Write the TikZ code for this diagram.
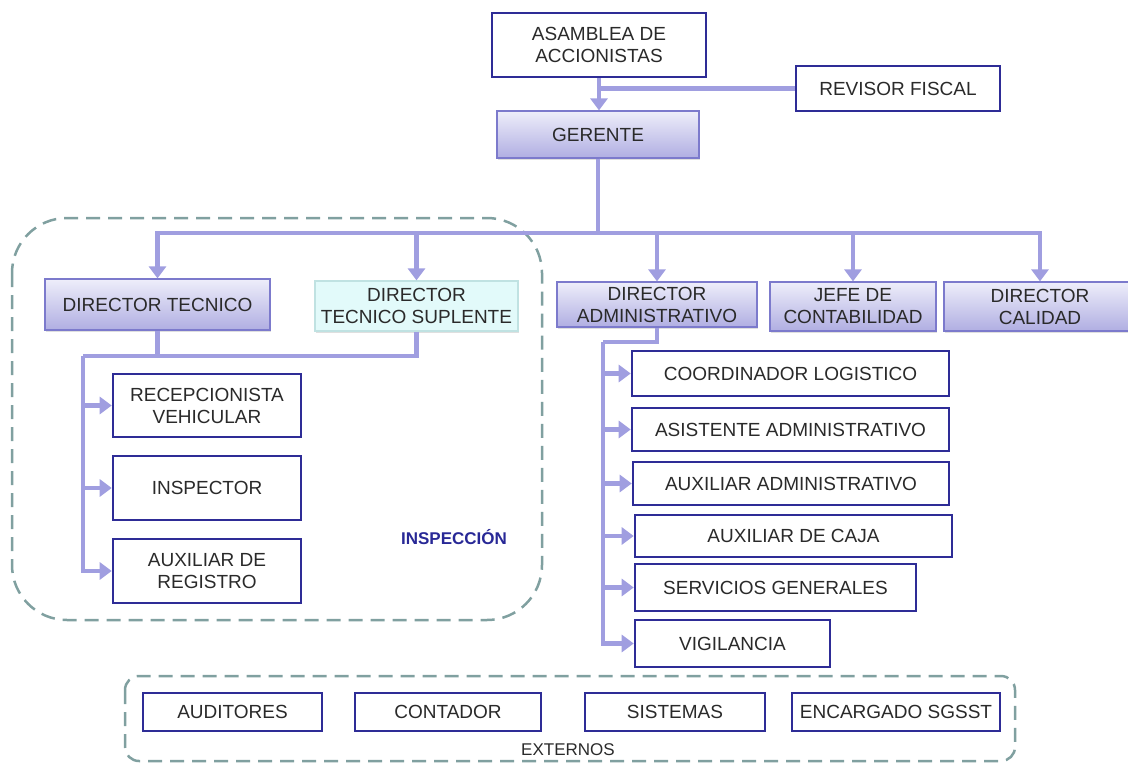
\documentclass[tikz,border=0pt]{standalone}
\usepackage{fontspec}
\setmainfont{Liberation Sans}
\usetikzlibrary{arrows.meta,shadows}

\definecolor{lineal}{RGB}{160,158,224}
\definecolor{azulcaja}{RGB}{46,44,150}
\definecolor{lilaborde}{RGB}{124,122,204}
\definecolor{lilaclaro}{RGB}{238,238,250}
\definecolor{lilaoscuro}{RGB}{176,174,226}
\definecolor{cianclaro}{RGB}{226,250,250}
\definecolor{cianborde}{RGB}{192,226,226}
\definecolor{verdegris}{RGB}{128,160,160}
\definecolor{grisletra}{RGB}{42,42,42}
\definecolor{azultitulo}{RGB}{40,40,150}

\begin{document}
\begin{tikzpicture}[x=1pt, y=-1pt,
    caja/.style={draw=azulcaja, line width=2.6pt, fill=white, text=grisletra,
      inner sep=0pt, align=center, font=\fontsize{19}{22}\selectfont},
    cargo/.style={caja, draw=lilaborde, line width=1.2pt,
      top color=lilaclaro, bottom color=lilaoscuro,
      drop shadow={shadow xshift=1pt, shadow yshift=-2pt, opacity=0.25}},
    linea/.style={draw=lineal, line width=4.5pt},
    flecha/.style={linea, -{Triangle[width=17pt,length=12pt]}},
    grupo/.style={draw=verdegris, line width=2.5pt, dash pattern=on 14pt off 8pt}
  ]
    \useasboundingbox (0,0) rectangle (1128,764);

    % grupos
    \draw[grupo, rounded corners=55] (12,218) rectangle (542,620);
    \draw[grupo, rounded corners=14] (125,676) rectangle (1015,761);
    \node[font=\fontsize{17}{20}\selectfont\bfseries, text=azultitulo] (inspeccion) at (454,537) {INSPECCIÓN};
    \node[font=\fontsize{17}{20}\selectfont, text=grisletra] (externos) at (568,750) {EXTERNOS};

    % direccion
    \node[caja, minimum width=214, minimum height=64] (asamblea) at (599,45) {ASAMBLEA DE\\ACCIONISTAS};
    \node[caja, minimum width=204, minimum height=45] (revisor) at (898,88.5) {REVISOR FISCAL};
    \node[cargo, minimum width=202, minimum height=47] (gerente) at (598,134.5) {GERENTE};

    \node[cargo, minimum width=225, minimum height=51] (dtecnico) at (157.5,304.5) {DIRECTOR TECNICO};
    \node[caja, draw=cianborde, line width=1.2pt, fill=cianclaro,
      drop shadow={shadow xshift=1pt, shadow yshift=-2pt, opacity=0.25},
      minimum width=203, minimum height=50] (dsuplente) at (416.5,306) {DIRECTOR\\TECNICO SUPLENTE};
    \node[cargo, minimum width=200, minimum height=45] (dadmin) at (657,304.5) {DIRECTOR\\ADMINISTRATIVO};
    \node[cargo, minimum width=166, minimum height=49] (jcontab) at (853,306.5) {JEFE DE\\CONTABILIDAD};
    \node[cargo, minimum width=192, minimum height=49] (dcalidad) at (1040,306.5) {DIRECTOR\\CALIDAD};

    % inspeccion
    \node[caja, minimum width=188, minimum height=63] (recep) at (207,405.5) {RECEPCIONISTA\\VEHICULAR};
    \node[caja, minimum width=188, minimum height=64] (inspector) at (207,488) {INSPECTOR};
    \node[caja, minimum width=188, minimum height=64] (auxreg) at (207,571) {AUXILIAR DE\\REGISTRO};

    % administracion
    \node[caja, minimum width=317, minimum height=45] (coord) at (790.5,373.5) {COORDINADOR LOGISTICO};
    \node[caja, minimum width=317, minimum height=43] (asist) at (790.5,429.5) {ASISTENTE ADMINISTRATIVO};
    \node[caja, minimum width=316, minimum height=43] (auxadm) at (791,483.5) {AUXILIAR ADMINISTRATIVO};
    \node[caja, minimum width=317, minimum height=42] (auxcaja) at (793.5,536) {AUXILIAR DE CAJA};
    \node[caja, minimum width=281, minimum height=47] (servicios) at (775.5,587.5) {SERVICIOS GENERALES};
    \node[caja, minimum width=195, minimum height=47] (vigilancia) at (732.5,643.5) {VIGILANCIA};

    % externos
    \node[caja, minimum width=179, minimum height=38] (auditores) at (232.5,712) {AUDITORES};
    \node[caja, minimum width=186, minimum height=38] (contador) at (448,712) {CONTADOR};
    \node[caja, minimum width=180, minimum height=38] (sistemas) at (675,712) {SISTEMAS};
    \node[caja, minimum width=208, minimum height=38] (sgsst) at (896,712) {ENCARGADO SGSST};

    % conectores
    \draw[flecha] (asamblea.south) -- (asamblea.south |- gerente.north);
    \draw[linea] (revisor.west) -- (revisor.west -| asamblea.south);

    \coordinate (bus) at (600,233);
    \foreach \n in {dtecnico,dsuplente,dadmin,jcontab,dcalidad}
      \draw[flecha] (gerente.south) |- (bus -| \n.north) -- (\n.north);

    \coordinate (ramaT) at (83,356);
    \draw[linea] (dsuplente.south) |- (ramaT);
    \draw[linea] (dtecnico.south) -- (dtecnico.south |- ramaT);
    \foreach \n in {recep,inspector,auxreg}
      \draw[flecha] (ramaT) |- (\n.west);

    \coordinate (ramaA) at (603,342);
    \draw[linea] (dadmin.south) |- (ramaA);
    \foreach \n in {coord,asist,auxadm,auxcaja,servicios,vigilancia}
      \draw[flecha] (ramaA) |- (\n.west);
\end{tikzpicture}
\end{document}
